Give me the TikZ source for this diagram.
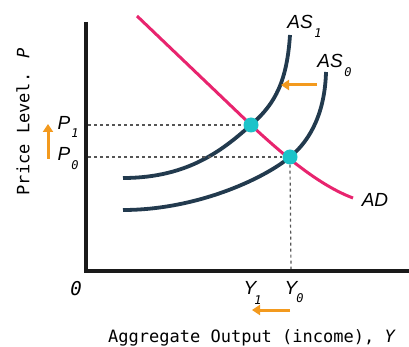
\documentclass[tikz,border=0pt]{standalone}
\usepackage{fontspec}
\setmainfont{Liberation Sans}
\newfontfamily\monof{DejaVu Sans Mono}
\usetikzlibrary{arrows.meta}
\definecolor{curvecol}{HTML}{223A4E}
\definecolor{adcol}{HTML}{E8246E}
\definecolor{dotcol}{HTML}{1CC3C9}
\definecolor{arrcol}{HTML}{F39A1E}
\definecolor{axcol}{HTML}{1A1A1A}
\definecolor{dashcol}{HTML}{555555}
\tikzset{
  axisline/.style={line width=3.5pt, draw=axcol, line join=miter},
  ascurve/.style={line width=3.8pt, draw=curvecol, line cap=butt},
  adcurve/.style={line width=3pt, draw=adcol},
  eqdot/.style={circle, fill=dotcol, minimum size=15pt, inner sep=0pt},
  guide/.style={draw=dashcol, line width=1.2pt, dash pattern=on 3pt off 3pt},
  shiftarrow/.style={draw=arrcol, line width=3pt, -{Triangle[length=8pt,width=10pt]}},
  lab/.style={inner sep=0pt, font=\fontsize{19}{19}\selectfont\itshape},
  sublab/.style={inner sep=0pt, font=\fontsize{12}{12}\selectfont\monof\itshape},
  axlab/.style={inner sep=0pt, font=\fontsize{17}{17}\selectfont\monof},
}
\begin{document}
\begin{tikzpicture}[x=1pt,y=-1pt]
\useasboundingbox (0,0) rectangle (409,347);
% axes
\coordinate (top) at (86,22);
\coordinate (orig) at (86,271);
\coordinate (right) at (409,271);
\draw[axisline] (top) -- (orig) -- (right);
% curves
\draw[adcurve] (137,16) -- (251,125) .. controls (280,152) and (318,185) .. (353,198);
\draw[ascurve] (123,178) .. controls (190,178) and (225,148) .. (252,124)
  .. controls (276,103) and (287,80) .. (290,35);
\draw[ascurve] (123,210) .. controls (195,210) and (262,180) .. (290,157)
  .. controls (312,139) and (325,110) .. (326,72);
% dots
\node[eqdot] (e1) at (251,125) {};
\node[eqdot] (e0) at (290,157) {};
% guides
\coordinate (p1ax) at (88,125);
\coordinate (p0ax) at (88,157);
\coordinate (y0ax) at (291,269);
\draw[guide] (p1ax) -- (e1.west);
\draw[guide] (p0ax) -- (e0.west);
\draw[guide] (e0.south) -- (y0ax);
% labels
\node[lab] (as1) at (300,22) {AS};
\node[sublab] (as1s) at (318,33) {1};
\node[lab] (as0) at (330,61) {AS};
\node[sublab] (as0s) at (348,72) {0};
\node[lab] (ad) at (375,200) {AD};
\node[lab] (p1) at (64,123) {P};
\node[sublab] (p1s) at (75,133) {1};
\node[lab] (p0) at (64,154) {P};
\node[sublab] (p0s) at (75,165) {0};
\node[lab] (y1) at (250,288) {Y};
\node[sublab] (y1s) at (258,300) {1};
\node[lab] (y0) at (291,288) {Y};
\node[sublab] (y0s) at (300,298) {0};
\node[lab, font=\fontsize{19}{19}\selectfont\monof\itshape] (zero) at (76,289) {0};
% shift arrows
\coordinate (a1s) at (317,85);
\coordinate (a1e) at (281,85);
\draw[shiftarrow] (a1s) -- (a1e);
\coordinate (a2s) at (290,310);
\coordinate (a2e) at (252,310);
\draw[shiftarrow] (a2s) -- (a2e);
\coordinate (a3s) at (48,159);
\coordinate (a3e) at (48,124);
\draw[shiftarrow] (a3s) -- (a3e);
% axis titles
\node[axlab] (xt) at (252,338) {Aggregate Output (income), \textit{Y}};
\node[axlab, rotate=90] (yt) at (23,122) {Price Level. \textit{P}};
\end{tikzpicture}
\end{document}
